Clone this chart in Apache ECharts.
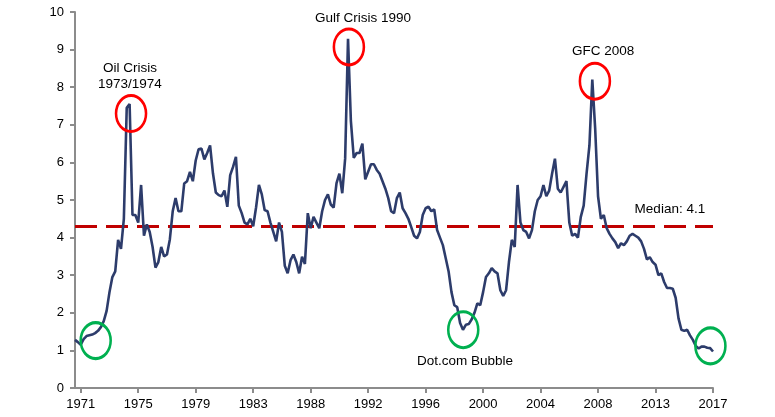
<!DOCTYPE html>
<html>
<head>
<meta charset="utf-8">
<script src="https://cdn.jsdelivr.net/npm/echarts@6/dist/echarts.min.js"></script>
<style>
html,body{margin:0;padding:0;background:#fff;}
#chart{width:775px;height:417px;}
</style>
</head>
<body>
<div id="chart"></div>
<script>
// Tick labels shown on the x axis (evenly spaced)
var yearLabels = ['1971','1975','1979','1983','1988','1992','1996','2000','2004','2008','2013','2017'];
var firstTickIndex = 2;
var pointsPerTick = 20;

// Series values
var values = [
1.28,1.22,1.15,1.30,1.38,1.40,1.42,1.46,1.52,1.62,
1.78,2.05,2.55,2.95,3.10,3.94,3.70,4.50,7.45,7.55,
4.60,4.60,4.40,5.40,4.05,4.35,4.15,3.75,3.20,3.35,
3.75,3.50,3.55,3.95,4.70,5.05,4.70,4.70,5.44,5.50,
5.75,5.50,6.05,6.35,6.37,6.08,6.25,6.45,5.71,5.20,
5.13,5.10,5.25,4.82,5.66,5.88,6.15,4.85,4.65,4.40,
4.35,4.50,4.30,4.80,5.40,5.15,4.73,4.70,4.40,4.15,
3.90,4.40,4.15,3.25,3.05,3.40,3.55,3.35,3.05,3.49,
3.30,4.65,4.25,4.55,4.40,4.25,4.70,5.00,5.15,4.88,
4.80,5.45,5.70,5.18,6.10,9.29,7.10,6.12,6.25,6.25,
6.50,5.55,5.75,5.95,5.95,5.80,5.70,5.50,5.30,5.05,
4.70,4.65,5.05,5.20,4.78,4.65,4.50,4.28,4.05,3.98,
4.15,4.60,4.78,4.82,4.70,4.75,4.20,4.00,3.80,3.45,
3.10,2.55,2.20,2.15,1.73,1.55,1.68,1.70,1.82,2.00,
2.25,2.20,2.55,2.95,3.05,3.19,3.10,3.05,2.60,2.45,
2.60,3.35,3.94,3.75,5.40,4.40,4.20,4.15,3.98,4.20,
4.70,5.00,5.10,5.40,5.10,5.25,5.70,6.10,5.30,5.20,
5.35,5.50,4.40,4.05,4.10,4.00,4.55,4.85,5.70,6.45,
8.20,6.90,5.10,4.50,4.60,4.25,4.10,3.98,3.88,3.72,
3.85,3.80,3.90,4.05,4.10,4.05,4.00,3.90,3.70,3.42,
3.48,3.35,3.28,3.00,3.05,2.82,2.66,2.66,2.64,2.40,
1.85,1.55,1.52,1.55,1.40,1.28,1.12,1.05,1.10,1.10,
1.07,1.06,0.97
];

var medianValue = 4.3;
var medianText = 'Median: 4.1';

// Annotation ellipses: [index position, value]
var redRings = [[19.5,7.30],[95.3,9.07],[180.9,8.16]];
var greenRings = [[7.2,1.26],[135.1,1.55],[221.1,1.12]];

// Annotation texts
var noteTexts = ['Oil Crisis\n1973/1974','Gulf Crisis 1990','GFC 2008','Dot.com Bubble', medianText];
var notePos = [[19.1,8.28],[100.2,9.82],[183.8,8.96],[135.7,0.70],[207.0,4.76]];

var categories = values.map(function(v,i){return String(i);});
function isTick(i){ return i >= firstTickIndex && (i - firstTickIndex) % pointsPerTick === 0; }

var FONT = 'Liberation Sans, Arial, sans-serif';
var chart = echarts.init(document.getElementById('chart'), null, {renderer:'canvas'});

var noteData = noteTexts.map(function(t,k){
  return {value: notePos[k], label: {formatter: t}};
});

chart.setOption({
  animation: false,
  backgroundColor: '#ffffff',
  grid: {left: 75, right: 62, top: 12, bottom: 29, containLabel: false},
  xAxis: [{
    type: 'category',
    data: categories,
    boundaryGap: false,
    axisLine: {show: true, lineStyle: {color: '#8c8c8c', width: 2}},
    axisTick: {show: true, length: 5, interval: function(i){return isTick(i);}, lineStyle: {color: '#8c8c8c', width: 2}},
    axisLabel: {
      show: true,
      interval: function(i){return isTick(i);},
      formatter: function(v, i){ return yearLabels[(i - firstTickIndex) / pointsPerTick]; },
      color: '#000', fontFamily: FONT, fontSize: 13, margin: 10
    },
    splitLine: {show: false}
  },{
    type: 'value', min: 0, max: values.length - 1, show: false
  }],
  yAxis: {
    type: 'value', min: 0, max: 10, interval: 1,
    axisLine: {show: true, lineStyle: {color: '#8c8c8c', width: 2}},
    axisTick: {show: true, length: 5, lineStyle: {color: '#8c8c8c', width: 2}},
    axisLabel: {color: '#000', fontFamily: FONT, fontSize: 13, margin: 11},
    splitLine: {show: false}
  },
  series: [{
    type: 'line',
    data: values,
    xAxisIndex: 0,
    symbol: 'none',
    lineStyle: {color: '#2d3c6b', width: 2.6},
    z: 3,
    markLine: {
      silent: true,
      symbol: 'none',
      label: {show: false},
      lineStyle: {color: '#c00000', width: 3, type: [22, 9], opacity: 1},
      data: [{yAxis: medianValue}],
      z: 2
    }
  },{
    type: 'scatter',
    xAxisIndex: 1,
    data: redRings,
    symbol: 'circle',
    symbolSize: [30, 36],
    itemStyle: {color: 'rgba(0,0,0,0)', borderColor: '#ff0000', borderWidth: 2.8, opacity: 1},
    z: 5, silent: true
  },{
    type: 'scatter',
    xAxisIndex: 1,
    data: greenRings,
    symbol: 'circle',
    symbolSize: [30, 36],
    itemStyle: {color: 'rgba(0,0,0,0)', borderColor: '#00b050', borderWidth: 2.8, opacity: 1},
    z: 5, silent: true
  },{
    type: 'scatter',
    xAxisIndex: 1,
    data: noteData,
    symbol: 'circle',
    symbolSize: 1,
    itemStyle: {color: 'rgba(0,0,0,0)', opacity: 1},
    label: {show: true, position: 'inside', color: '#000', opacity: 1, fontFamily: FONT, fontSize: 13.5, lineHeight: 16},
    z: 6, silent: true
  }]
});
</script>
</body>
</html>
